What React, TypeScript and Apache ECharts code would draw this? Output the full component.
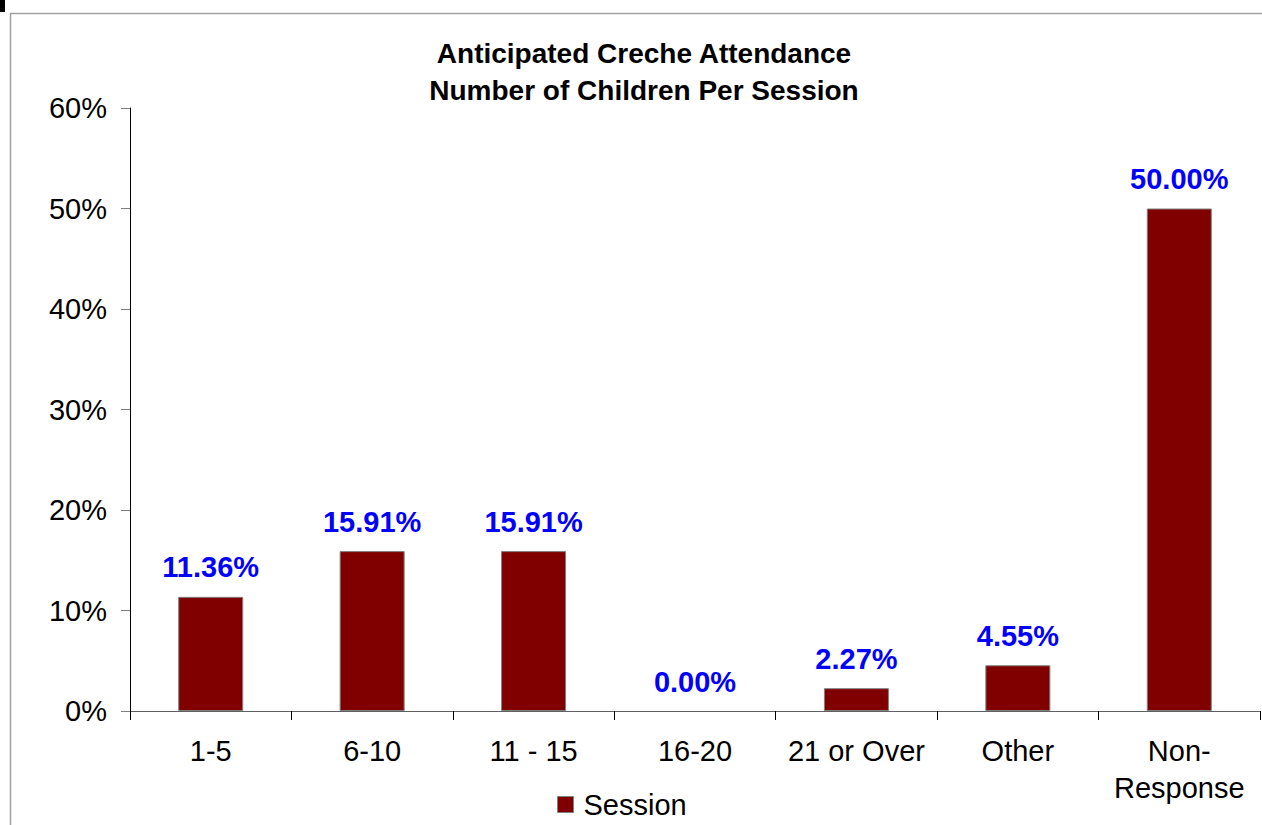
import React, { useEffect, useRef } from "react";
import * as echarts from "echarts";

// Anticipated creche attendance, share of responses per group (percent)
const categories: string[] = ["1-5", "6-10", "11 - 15", "16-20", "21 or Over", "Other", "Non-\nResponse"];
const sessionValues: number[] = [11.36, 15.91, 15.91, 0, 2.27, 4.55, 50.0];
const seriesName = "Session";
const titleLines: string[] = ["Anticipated Creche Attendance", "Number of Children Per Session"];
const yMin = 0;
const yMax = 60;
const yStep = 10;

const FONT = "'Liberation Sans', Arial, Helvetica, sans-serif";

export default function App() {
  const ref = useRef<HTMLDivElement>(null);

  useEffect(() => {
    if (!ref.current) return;
    const chart = echarts.init(ref.current, undefined, { renderer: "svg" });

    // a zero-height bar gets no outline, so no stray line sits on the axis
    const barData = sessionValues.map((v) =>
      v === 0 ? { value: v, itemStyle: { borderWidth: 0 } } : v
    );

    chart.setOption({
      animation: false,
      backgroundColor: "#ffffff",
      textStyle: { fontFamily: FONT },
      title: {
        text: titleLines.join("\n"),
        left: 644,
        top: 35,
        padding: 0,
        textAlign: "center",
        textStyle: {
          fontFamily: FONT,
          fontSize: 28,
          fontWeight: "bold",
          color: "#000000",
          lineHeight: 37,
        },
      },
      legend: {
        data: [seriesName],
        left: 557,
        top: 790,
        padding: 0,
        itemWidth: 16,
        itemHeight: 16,
        itemGap: 10,
        icon: "rect",
        itemStyle: { borderColor: "#808080", borderWidth: 1 },
        textStyle: { fontFamily: FONT, fontSize: 29, color: "#000000", padding: [0, 0, 0, 5] },
      },
      grid: {
        left: 130,
        right: 2,
        top: 108,
        bottom: 114,
        containLabel: false,
      },
      xAxis: {
        type: "category",
        data: categories,
        boundaryGap: true,
        axisLine: { show: true, lineStyle: { color: "#606060", width: 1 } },
        axisTick: { show: true, length: 9, lineStyle: { color: "#000000" } },
        axisLabel: {
          interval: 0,
          margin: 21,
          fontFamily: FONT,
          fontSize: 29,
          color: "#000000",
          lineHeight: 37,
        },
        splitLine: { show: false },
      },
      yAxis: {
        type: "value",
        min: yMin,
        max: yMax,
        interval: yStep,
        axisLine: { show: true, lineStyle: { color: "#000000", width: 1 } },
        axisTick: { show: true, length: 9, lineStyle: { color: "#808080" } },
        axisLabel: {
          margin: 23,
          fontFamily: FONT,
          fontSize: 29,
          color: "#000000",
          formatter: (v: number) => `${v}%`,
        },
        splitLine: { show: false },
      },
      series: [
        {
          name: seriesName,
          type: "bar",
          data: barData,
          barWidth: 65,
          itemStyle: { color: "#800000", borderColor: "#808080", borderWidth: 1 },
          label: {
            show: true,
            position: "top",
            distance: 15,
            fontFamily: FONT,
            fontSize: 29,
            fontWeight: "bold",
            color: "#0000FF",
            formatter: (p: any) => `${Number(p.value).toFixed(2)}%`,
          },
        },
      ],
      graphic: [
        {
          type: "rect",
          silent: true,
          shape: { x: 10.5, y: 13.5, width: 1400, height: 1000 },
          style: { fill: "none", stroke: "#a0a0a0", lineWidth: 1.5 },
          z: -1,
        },
        {
          type: "rect",
          silent: true,
          shape: { x: 0, y: 0, width: 5, height: 12 },
          style: { fill: "#000000" },
        },
      ],
    });
    return () => chart.dispose();
  }, []);

  return (
    <div
      ref={ref}
      style={{ position: "absolute", left: 0, top: 0, width: 1262, height: 825 }}
    />
  );
}
